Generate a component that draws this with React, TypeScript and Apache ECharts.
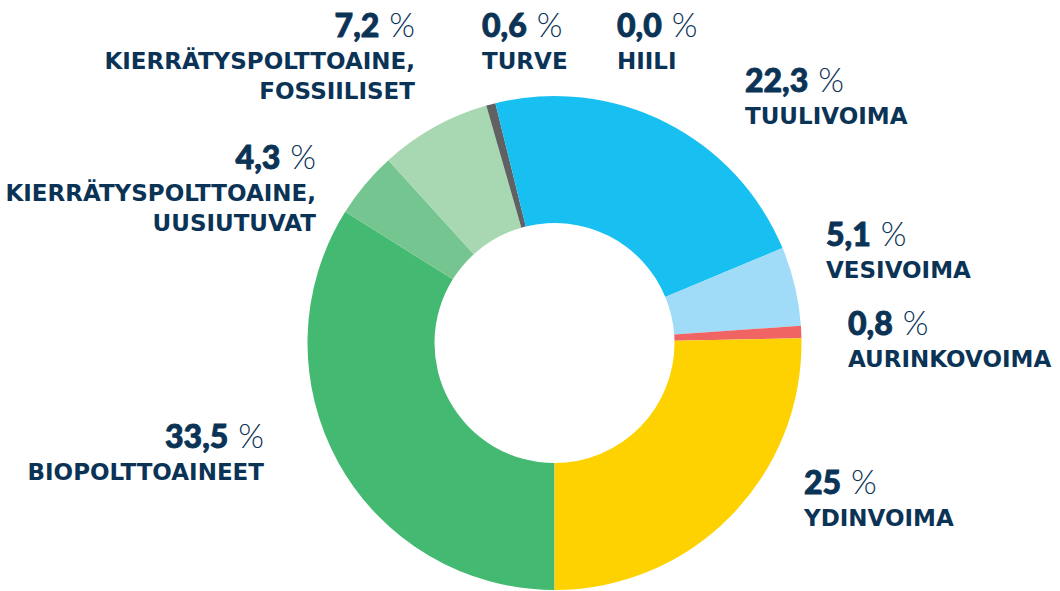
import React, { useEffect, useRef } from "react";
import * as echarts from "echarts";

// Energy sources (clockwise starting from 6 o'clock)
const categories = [
  ["BIOPOLTTOAINEET"],
  ["KIERRÄTYSPOLTTOAINE,", "UUSIUTUVAT"],
  ["KIERRÄTYSPOLTTOAINE,", "FOSSIILISET"],
  ["TURVE"],
  ["HIILI"],
  ["TUULIVOIMA"],
  ["VESIVOIMA"],
  ["AURINKOVOIMA"],
  ["YDINVOIMA"],
];
const values = [33.5, 4.3, 7.2, 0.6, 0.0, 22.3, 5.1, 0.8, 25];
const valueLabels = ["33,5", "4,3", "7,2", "0,6", "0,0", "22,3", "5,1", "0,8", "25"];
const colors = [
  "#43B971",
  "#74C590",
  "#A8D8B2",
  "#5F6163",
  "#1A1A1A",
  "#18C0F2",
  "#A0DCF7",
  "#F06464",
  "#FDD200",
];

// label anchor positions (x, top y, alignment)
const labelPos: [number, number, string][] = [
  [264, 413, "right"],
  [316, 134, "right"],
  [415, 2, "right"],
  [482, 2, "left"],
  [617, 2, "left"],
  [745, 57, "left"],
  [826, 211, "left"],
  [848, 300, "left"],
  [804, 459, "left"],
];

const TEXT = "#0B3356";

export default function App() {
  const ref = useRef<HTMLDivElement>(null);
  useEffect(() => {
    document.body.style.margin = "0";
    const chart = echarts.init(ref.current!, null, { renderer: "svg" });
    chart.setOption({
      animation: false,
      backgroundColor: "#ffffff",
      series: [
        {
          type: "pie",
          center: [554.5, 343],
          radius: [120, 247],
          startAngle: 270,
          clockwise: true,
          avoidLabelOverlap: false,
          data: values.map((v, i) => ({
            value: v,
            name: categories[i].join(" "),
            itemStyle: { color: colors[i] },
          })),
          label: {
            show: true,
            position: "outside",
            formatter: (p: any) => {
              const i = p.dataIndex;
              const lines = categories[i].map((c) => `{name|${c}}`).join("\n");
              return `{num|${valueLabels[i]}}{pct|%}\n${lines}`;
            },
            rich: {
              num: {
                fontFamily: "Lato",
                fontWeight: 900,
                fontSize: 32,
                color: TEXT,
                textBorderColor: TEXT,
                textBorderWidth: 0.9,
                lineHeight: 44,
              },
              pct: {
                fontFamily: "Lato",
                fontWeight: 300,
                fontSize: 33,
                color: TEXT,
                lineHeight: 44,
                padding: [0, 0, 0, 10],
              },
              name: {
                fontFamily: "DejaVu Sans",
                fontWeight: "bold",
                fontSize: 23,
                color: TEXT,
                lineHeight: 30,
              },
            },
          },
          labelLine: { show: false },
          labelLayout: (params: any) => {
            const [x, y, align] = labelPos[params.dataIndex];
            return { x, y, align, verticalAlign: "top", hideOverlap: false };
          },
          emphasis: { disabled: true },
        },
      ],
    });
    return () => chart.dispose();
  }, []);
  return <div ref={ref} style={{ width: 1060, height: 591 }} />;
}
